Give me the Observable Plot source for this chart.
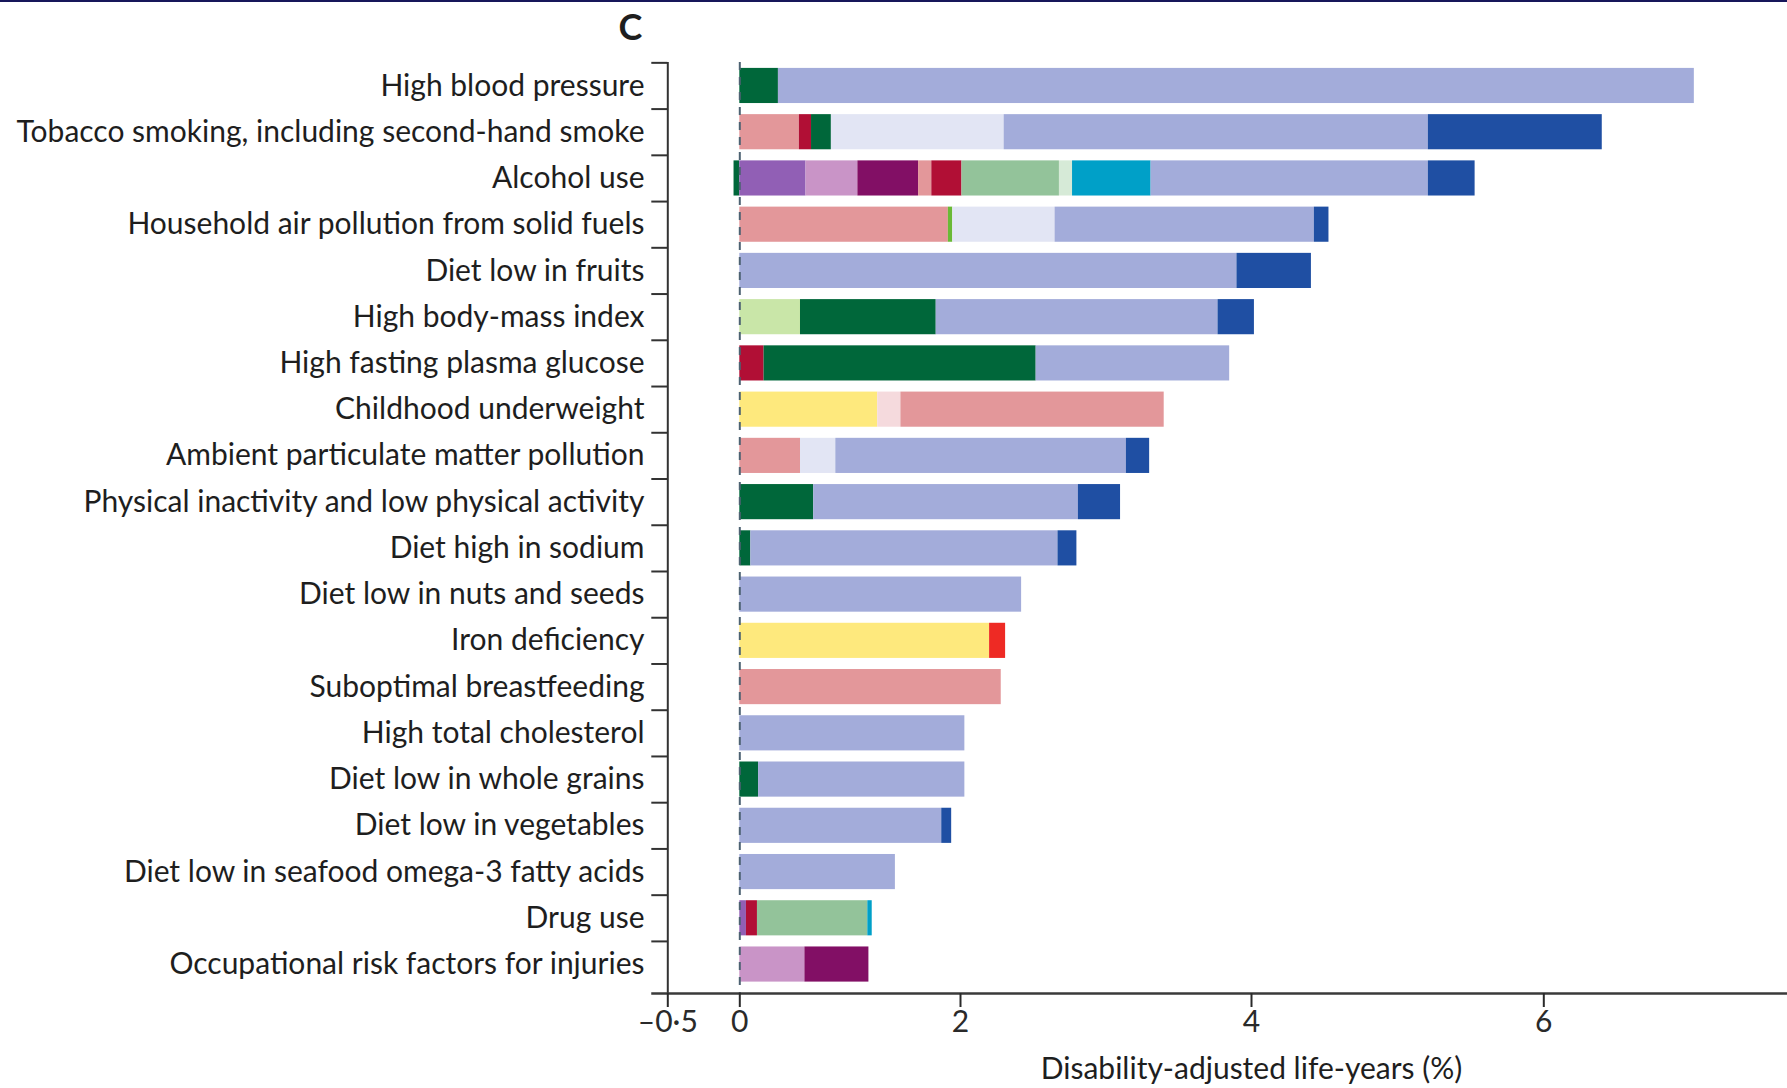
<!DOCTYPE html>
<html>
<head>
<meta charset="utf-8">
<script src="https://cdn.jsdelivr.net/npm/d3@7"></script>
<script src="https://cdn.jsdelivr.net/npm/@observablehq/plot@0.6"></script>
<style>
  html, body { margin: 0; padding: 0; background: #fff; }
  #wrap { position: relative; width: 1787px; height: 1088px; }
  #topline { position: absolute; left: 0; top: 0; width: 1787px; height: 2px; background: #16165a; }
</style>
</head>
<body>
<div id="wrap"><div id="topline"></div><div id="chart"></div></div>
<script>
// ---- Data ----
const panelLetter = "C";
const xLabel = "Disability-adjusted life-years (%)";
const xTicks = [-0.5, 0, 2, 4, 6];

const risks = [
  "High blood pressure",
  "Tobacco smoking, including second-hand smoke",
  "Alcohol use",
  "Household air pollution from solid fuels",
  "Diet low in fruits",
  "High body-mass index",
  "High fasting plasma glucose",
  "Childhood underweight",
  "Ambient particulate matter pollution",
  "Physical inactivity and low physical activity",
  "Diet high in sodium",
  "Diet low in nuts and seeds",
  "Iron deficiency",
  "Suboptimal breastfeeding",
  "High total cholesterol",
  "Diet low in whole grains",
  "Diet low in vegetables",
  "Diet low in seafood omega-3 fatty acids",
  "Drug use",
  "Occupational risk factors for injuries"
];

const causes = [
  "Cardiovascular diseases", "Neoplasms", "Diabetes and kidney diseases",
  "Chronic respiratory diseases", "Respiratory infections and diarrhoea",
  "HIV/AIDS and tuberculosis", "Transport injuries", "Unintentional injuries",
  "Self-harm and interpersonal violence", "Mental and substance use disorders",
  "Neurological disorders", "Cirrhosis and digestive diseases", "Sense organ diseases",
  "Musculoskeletal disorders", "Nutritional deficiencies", "Neonatal disorders",
  "Maternal disorders"
];
const causeColors = [
  "#a3acda", "#1f4fa3", "#00673a",
  "#e2e5f4", "#e3979a",
  "#b10f35", "#915fb5", "#c994c7",
  "#820f65", "#93c39a",
  "#d6ead7", "#00a0c8", "#6ab936",
  "#c9e6a8", "#fee97d", "#f5dadd",
  "#ee2a24"
];

// [cause, % DALYs] in stacking order, one array per risk factor
const highBloodPressure = [["Diabetes and kidney diseases", 0.35], ["Cardiovascular diseases", 6.68]];
const tobacco = [["Respiratory infections and diarrhoea", 0.54], ["HIV/AIDS and tuberculosis", 0.11], ["Diabetes and kidney diseases", 0.18], ["Chronic respiratory diseases", 1.47], ["Cardiovascular diseases", 2.91], ["Neoplasms", 1.19]];
const alcohol = [["Diabetes and kidney diseases", -0.04], ["Transport injuries", 0.60], ["Unintentional injuries", 0.47], ["Self-harm and interpersonal violence", 0.55], ["Respiratory infections and diarrhoea", 0.12], ["HIV/AIDS and tuberculosis", 0.27], ["Mental and substance use disorders", 0.67], ["Neurological disorders", 0.09], ["Cirrhosis and digestive diseases", 0.54], ["Cardiovascular diseases", 1.90], ["Neoplasms", 0.32]];
const householdAir = [["Respiratory infections and diarrhoea", 1.89], ["Sense organ diseases", 0.04], ["Chronic respiratory diseases", 0.72], ["Cardiovascular diseases", 1.78], ["Neoplasms", 0.10]];
const fruits = [["Cardiovascular diseases", 3.90], ["Neoplasms", 0.51]];
const bmi = [["Musculoskeletal disorders", 0.55], ["Diabetes and kidney diseases", 1.23], ["Cardiovascular diseases", 1.99], ["Neoplasms", 0.25]];
const glucose = [["HIV/AIDS and tuberculosis", 0.22], ["Diabetes and kidney diseases", 2.30], ["Cardiovascular diseases", 1.33]];
const underweight = [["Nutritional deficiencies", 1.25], ["Neonatal disorders", 0.21], ["Respiratory infections and diarrhoea", 1.94]];
const ambientPM = [["Respiratory infections and diarrhoea", 0.55], ["Chronic respiratory diseases", 0.32], ["Cardiovascular diseases", 2.27], ["Neoplasms", 0.16]];
const inactivity = [["Diabetes and kidney diseases", 0.67], ["Cardiovascular diseases", 2.14], ["Neoplasms", 0.29]];
const sodium = [["Diabetes and kidney diseases", 0.10], ["Cardiovascular diseases", 2.57], ["Neoplasms", 0.13]];
const nuts = [["Cardiovascular diseases", 2.42]];
const iron = [["Nutritional deficiencies", 2.20], ["Maternal disorders", 0.11]];
const breastfeeding = [["Respiratory infections and diarrhoea", 2.28]];
const cholesterol = [["Cardiovascular diseases", 2.03]];
const wholeGrains = [["Diabetes and kidney diseases", 0.17], ["Cardiovascular diseases", 1.86]];
const vegetables = [["Cardiovascular diseases", 1.83], ["Neoplasms", 0.09]];
const seafood = [["Cardiovascular diseases", 1.41]];
const drugUse = [["Transport injuries", 0.06], ["HIV/AIDS and tuberculosis", 0.10], ["Mental and substance use disorders", 1.00], ["Cirrhosis and digestive diseases", 0.04]];
const occupational = [["Unintentional injuries", 0.59], ["Self-harm and interpersonal violence", 0.58]];

const segmentsByRisk = [
  highBloodPressure, tobacco, alcohol, householdAir, fruits, bmi, glucose,
  underweight, ambientPM, inactivity, sodium, nuts, iron, breastfeeding,
  cholesterol, wholeGrains, vegetables, seafood, drugUse, occupational
];

// x axis of the original figure is drawn piecewise between its ticks
const xDomain = [-0.5, 0, 2, 4, 6];
const xRange = [667.3, 739.3, 960, 1251, 1543.3];

// ---- Build table ----
const table = [];
segmentsByRisk.forEach((segs, i) => {
  segs.forEach(([cause, value]) => table.push({risk: risks[i], cause, value}));
});

const fmt = d => d === 0 ? "0" : String(d).replace("-", "\u2013").replace(".", "\u00b7");

const yRange = [56.8, 992.7];
const step = (yRange[1] - yRange[0]) / (risks.length + 0.24);

const chart = Plot.plot({
  width: 1787,
  height: 1088,
  marginLeft: 652,
  marginRight: 0,
  marginTop: 62,
  marginBottom: 95,
  style: {fontFamily: "Lato, 'Open Sans', sans-serif", background: "white", color: "#1e1e1e"},
  x: {type: "linear", domain: xDomain, range: xRange},
  y: {domain: risks, range: yRange, paddingInner: 0.24, paddingOuter: 0.24, align: 0.5, round: false},
  color: {domain: causes, range: causeColors},
  marks: [
    Plot.barX(table, {x: "value", y: "risk", fill: "cause"}),
    Plot.ruleX([0], {stroke: "#4d6272", strokeWidth: 2, strokeDasharray: "8,7"}),
    Plot.ruleX([-0.5], {stroke: "#333", strokeWidth: 2}),
    Plot.frame({anchor: "bottom", stroke: "#3a3a3a", strokeWidth: 2.5}),
    Plot.axisX({ticks: xTicks, tickSize: 14, tickPadding: 3, tickFormat: fmt, fontSize: 30, label: null, color: "#2a2a2a", strokeWidth: 2}),
    Plot.axisY({tickSize: 16, tickFormat: () => "", label: null, dy: -step / 2, dx: 15.3, color: "#333", strokeWidth: 2}),
    Plot.axisY({tickSize: 0, tickPadding: 8, fontSize: 30, label: null, color: "#1e1e1e"}),
    Plot.text([xLabel], {x: () => 4, frameAnchor: "bottom", dy: 76, fontSize: 30, fill: "#1e1e1e", lineAnchor: "middle"}),
    Plot.text([panelLetter], {frameAnchor: "top-left", dx: -22, dy: -34, fontSize: 36, fontWeight: "bold", textAnchor: "middle", lineAnchor: "middle", fill: "#1e1e1e"})
  ]
});
document.getElementById("chart").appendChild(chart);
</script>
</body>
</html>
